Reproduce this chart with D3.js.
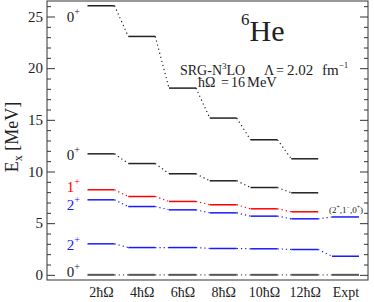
<!DOCTYPE html>
<html>
<head>
<meta charset="utf-8">
<script src="https://cdn.jsdelivr.net/npm/d3@7"></script>
<style>
  body { margin: 0; background: #fff; }
  text { font-family: "Liberation Serif", "Times New Roman", serif; }
</style>
</head>
<body>
<svg id="chart" width="374" height="302"></svg>
<script>
// categories on the x axis
var categories = ['2ħΩ', '4ħΩ', '6ħΩ', '8ħΩ', '10ħΩ', '12ħΩ', 'Expt'];

// excitation energies (MeV), one array per state
var ground0 = [0, 0, 0, 0, 0, 0, 0];
var first2 = [3.0, 2.64, 2.64, 2.55, 2.52, 2.45, 1.8];
var second2 = [7.26, 6.61, 6.29, 6.0, 5.68, 5.42, 5.6];
var first1 = [8.23, 7.58, 7.1, 6.78, 6.39, 6.1];
var second0 = [11.71, 10.77, 9.78, 9.1, 8.45, 7.94];
var third0 = [26.04, 23.07, 18.07, 15.17, 13.07, 11.23];

var yTicks = [0, 5, 10, 15, 20, 25];

var states = [
  {j: '0', p: '+', values: ground0, color: '#555', width: 2, dy: 2},
  {j: '2', p: '+', values: first2, color: '#1a1aff', width: 1.5, dy: 6},
  {j: '2', p: '+', values: second2, color: '#1a1aff', width: 1.5, dy: 10},
  {j: '1', p: '+', values: first1, color: '#ff0000', width: 1.5, dy: 2},
  {j: '0', p: '+', values: second0, color: '#222', width: 1.5, dy: 6},
  {j: '0', p: '+', values: third0, color: '#222', width: 1.5, dy: 16}
];

var svg = d3.select('#chart');
var pLeft = 47, pRight = 368, pTop = 1, pBottom = 280;
var half = 13.5;

var x = d3.scalePoint().domain(categories).range([101, 345.5]);
var y = d3.scaleLinear().domain([-0.5, 26.5]).range([pBottom, pTop]);

// frame
svg.append('rect')
  .attr('x', pLeft).attr('y', pTop)
  .attr('width', pRight - pLeft).attr('height', pBottom - pTop)
  .attr('fill', 'none').attr('stroke', '#333').attr('stroke-width', 1);

// y axis, ticks pointing inside
var minor = d3.range(0, 27).filter(function(d) { return d % 5 != 0; });
svg.append('g').attr('transform', 'translate(' + pLeft + ',0)')
  .call(d3.axisLeft(y).tickValues(yTicks).tickSize(-8).tickPadding(4))
  .call(function(g) { g.select('.domain').remove(); })
  .selectAll('text').attr('font-size', 15).attr('fill', '#222')
  .style('font-family', '"Liberation Serif", serif');
svg.append('g').attr('transform', 'translate(' + pLeft + ',0)')
  .call(d3.axisLeft(y).tickValues(minor).tickSize(-4).tickFormat(''))
  .call(function(g) { g.select('.domain').remove(); });
svg.append('g').attr('transform', 'translate(' + pRight + ',0)')
  .call(d3.axisRight(y).tickValues(yTicks).tickSize(-8).tickFormat(''))
  .call(function(g) { g.select('.domain').remove(); });
svg.append('g').attr('transform', 'translate(' + pRight + ',0)')
  .call(d3.axisRight(y).tickValues(minor).tickSize(-4).tickFormat(''))
  .call(function(g) { g.select('.domain').remove(); });
svg.selectAll('.tick line').attr('stroke', '#333');

// x axis labels
svg.append('g').attr('transform', 'translate(0,' + pBottom + ')')
  .call(d3.axisBottom(x).tickSize(0).tickPadding(4))
  .call(function(g) { g.select('.domain').remove(); })
  .selectAll('text').attr('font-size', 14).attr('fill', '#222').attr('dy', '0.95em')
  .style('font-family', '"Liberation Serif", serif');

// y label
var yl = svg.append('text')
  .attr('transform', 'translate(18,137) rotate(-90)')
  .attr('text-anchor', 'middle').attr('font-size', 18).attr('fill', '#222');
yl.append('tspan').text('E');
yl.append('tspan').attr('font-size', 12).attr('dy', 4).text('x');
yl.append('tspan').attr('dy', -4).text(' [MeV]');

// levels and connectors
states.forEach(function(s) {
  var g = svg.append('g');
  g.selectAll('line.level')
    .data(s.values)
    .join('line')
    .attr('class', 'level')
    .attr('x1', function(d, i) { return x(categories[i]) - half; })
    .attr('x2', function(d, i) { return x(categories[i]) + half; })
    .attr('y1', function(d) { return y(d); })
    .attr('y2', function(d) { return y(d); })
    .attr('stroke', s.color).attr('stroke-width', s.width);
  var pairs = d3.pairs(s.values);
  g.selectAll('line.link')
    .data(pairs)
    .join('line')
    .attr('class', 'link')
    .attr('x1', function(d, i) { return x(categories[i]) + half; })
    .attr('x2', function(d, i) { return x(categories[i + 1]) - half; })
    .attr('y1', function(d) { return y(d[0]); })
    .attr('y2', function(d) { return y(d[1]); })
    .attr('stroke', s.color).attr('stroke-width', 1.2)
    .attr('stroke-dasharray', '1.2,3');
  var lab = svg.append('text')
    .attr('x', 80).attr('y', y(s.values[0]) + s.dy)
    .attr('text-anchor', 'end').attr('font-size', 15)
    .attr('fill', s.color == '#555' || s.color == '#222' ? '#222' : s.color);
  lab.append('tspan').text(s.j);
  lab.append('tspan').attr('font-size', 10).attr('dy', -7).text(s.p);
});

// expt annotation
var ann = svg.append('text')
  .attr('x', 346).attr('y', 213).attr('text-anchor', 'middle')
  .attr('font-size', 9).attr('fill', '#222');
ann.append('tspan').text('(2');
ann.append('tspan').attr('font-size', 6).attr('dy', -4).text('+');
ann.append('tspan').attr('dy', 4).text(',1');
ann.append('tspan').attr('font-size', 6).attr('dy', -4).text('−');
ann.append('tspan').attr('dy', 4).text(',0');
ann.append('tspan').attr('font-size', 6).attr('dy', -4).text('+');
ann.append('tspan').attr('dy', 4).text(')');

// title
var t = svg.append('text').attr('x', 241).attr('y', 41).attr('fill', '#222');
t.append('tspan').attr('font-size', 17).attr('dy', -16).text('6');
t.append('tspan').attr('font-size', 30).attr('dy', 16).text('He');

// TLatex-like wide spacing, so pieces are placed one by one
var s1 = svg.append('text').attr('x', 180).attr('y', 75).attr('font-size', 14).attr('fill', '#222');
s1.append('tspan').text('SRG-N');
s1.append('tspan').attr('font-size', 9).attr('dy', -6).text('3');
s1.append('tspan').attr('dy', 6).text('LO');
s1.append('tspan').attr('x', 264).text('Λ');
s1.append('tspan').attr('x', 276).text('=');
s1.append('tspan').attr('x', 287).attr('font-size', 15).text('2.02');
s1.append('tspan').attr('x', 322).attr('font-size', 15).text('fm');
s1.append('tspan').attr('font-size', 9).attr('dy', -7).text('−1');

var s2 = svg.append('text').attr('x', 198).attr('y', 87).attr('font-size', 14).attr('fill', '#222');
s2.append('tspan').text('ħΩ');
s2.append('tspan').attr('x', 221).text('=');
s2.append('tspan').attr('x', 231).text('16');
s2.append('tspan').attr('x', 247).attr('font-size', 14.5).text('MeV');
</script>
</body>
</html>
